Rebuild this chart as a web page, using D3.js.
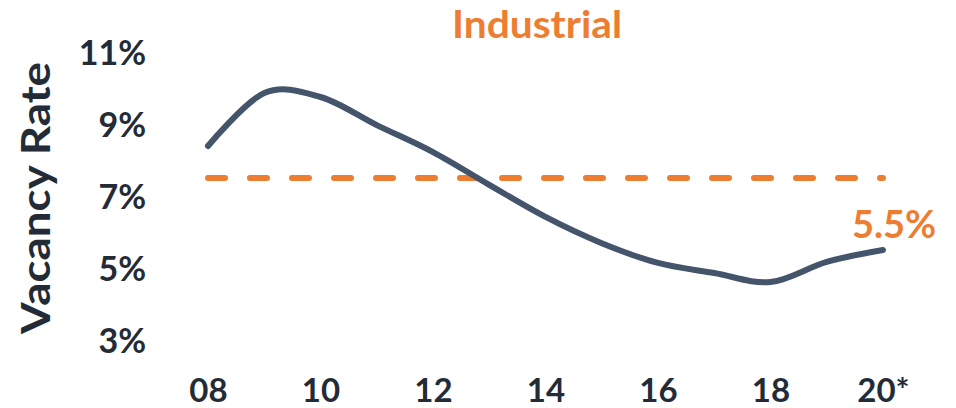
<!DOCTYPE html>
<html><head><meta charset="utf-8">
<script src="https://cdn.jsdelivr.net/npm/d3@7"></script>
<style>
html,body{margin:0;padding:0;background:#fff;}
svg{display:block;}
text{font-family:Lato,"Open Sans",sans-serif;font-weight:700;}
</style></head>
<body>
<svg id="c" width="956" height="408"></svg>
<script>
const years = [2008,2009,2010,2011,2012,2013,2014,2015,2016,2017,2018,2019,2020];
const vacancy = [8.39,9.86,9.75,8.97,8.22,7.31,6.42,5.69,5.14,4.86,4.61,5.17,5.5];
const average = 7.5;
const yTicks = [3,5,7,9,11];
const xTicks = [2008,2010,2012,2014,2016,2018,2020];
const xTickLabels = ["08","10","12","14","16","18","20*"];
const title = "Industrial";
const yTitle = "Vacancy Rate";
const endLabel = "5.5%";

const svg = d3.select("#c");
const x = d3.scaleLinear().domain([2008,2020]).range([208,883]);
const y = d3.scaleLinear().domain([3,11]).range([340,52]);
const dark = "#232b36", slate = "#44546a", orange = "#ed7d31";

svg.append("text").attr("x",537).attr("y",38).attr("text-anchor","middle")
  .attr("fill",orange).style("font-size","38px")
  .attr("textLength",170).attr("lengthAdjust","spacingAndGlyphs").text(title);

svg.append("text").attr("transform","translate(50,198) rotate(-90)")
  .attr("text-anchor","middle").attr("fill",dark).style("font-size","41px")
  .attr("textLength",272).attr("lengthAdjust","spacingAndGlyphs").text(yTitle);

const ya = svg.append("g").attr("transform","translate(146,0)")
  .call(d3.axisLeft(y).tickValues(yTicks).tickSize(0).tickPadding(0).tickFormat(d=>d+"%"));
ya.select(".domain").remove();
ya.selectAll("text").attr("fill",dark).style("font-size","34px").style("font-family","Lato").attr("dy","0.36em");

const xa = svg.append("g").attr("transform","translate(0,372)")
  .call(d3.axisBottom(x).tickValues(xTicks).tickSize(0).tickPadding(0).tickFormat((d,i)=>xTickLabels[i]));
xa.select(".domain").remove();
xa.selectAll("text").attr("fill",dark).style("font-size","33px").style("font-family","Lato").attr("dy","0.9em");

svg.append("line").attr("x1",x(2008)).attr("x2",x(2020)).attr("y1",y(average)).attr("y2",y(average))
  .attr("stroke",orange).attr("stroke-width",6).attr("stroke-linecap","round").attr("stroke-dasharray","17,25");

const line = d3.line().x((d,i)=>x(years[i])).y(d=>y(d)).curve(d3.curveCardinal.tension(0));
svg.append("path").datum(vacancy).attr("d",line).attr("fill","none")
  .attr("stroke",slate).attr("stroke-width",6).attr("stroke-linecap","round");

svg.append("text").attr("x",x(2020)+11).attr("y",y(vacancy[vacancy.length-1])-12).attr("text-anchor","middle")
  .attr("fill",orange).style("font-size","38px").text(endLabel);
</script>
</body></html>
